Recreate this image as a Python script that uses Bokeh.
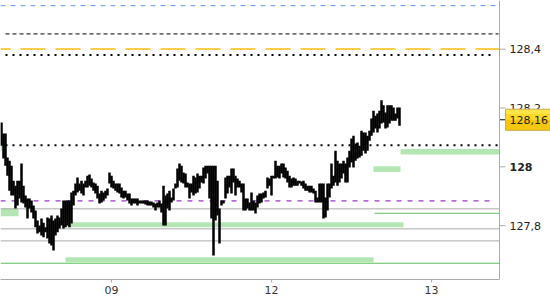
from bokeh.plotting import figure
from bokeh.models import Range1d, FixedTicker, Span, ColumnDataSource
from bokeh.core.properties import value
from bokeh.embed import file_html
from bokeh.resources import INLINE

# ---- OHLC-like bar data (high / low per bar) ----
high = [
    128.151, 128.113, 128.113, 128.032, 128.021, 128.004, 127.953, 127.936, 127.953, 127.953,
    128.011, 127.936, 127.902, 127.892, 127.892, 127.885, 127.868, 127.851, 127.817, 127.800,
    127.824, 127.810, 127.794, 127.828, 127.824, 127.834, 127.817, 127.824, 127.834, 127.828,
    127.858, 127.885, 127.885, 127.885, 127.885, 127.913, 127.919, 127.943, 127.964, 127.943,
    127.953, 127.943, 127.953, 127.970, 127.974, 127.960, 127.947, 127.943, 127.936, 127.909,
    127.919, 127.913, 127.919, 127.926, 127.981, 127.970, 127.953, 127.943, 127.943, 127.943,
    127.930, 127.919, 127.919, 127.909, 127.909, 127.892, 127.892, 127.892, 127.892, 127.885,
    127.885, 127.885, 127.885, 127.885, 127.882, 127.882, 127.879, 127.875, 127.879, 127.885,
    127.875, 127.936, 127.902, 127.909, 127.919, 127.896, 127.926, 127.943, 127.994, 128.011,
    128.004, 127.981, 127.977, 127.947, 127.943, 127.943, 127.970, 127.964, 127.977, 127.970,
    127.970, 127.998, 128.004, 128.004, 128.004, 128.004, 128.004, 128.004, 127.953, 127.858,
    127.885, 127.885, 127.964, 127.970, 127.970, 127.994, 127.994, 127.970, 127.960, 127.953,
    127.943, 127.943, 127.892, 127.892, 127.879, 127.913, 127.885, 127.879, 127.902, 127.909,
    127.909, 127.913, 127.919, 127.964, 127.960, 127.970, 127.970, 128.021, 128.004, 128.004,
    128.011, 128.011, 127.998, 127.987, 127.970, 127.960, 127.964, 127.960, 127.953, 127.953,
    127.950, 127.953, 127.943, 127.936, 127.936, 127.936, 127.926, 127.919, 127.896, 127.943,
    127.943, 127.943, 127.896, 127.943, 127.943, 128.011, 127.970, 128.055, 128.021, 128.011,
    128.011, 128.021, 128.011, 128.032, 128.055, 128.096, 128.106, 128.079, 128.083, 128.072,
    128.123, 128.117, 128.117, 128.106, 128.123, 128.164, 128.191, 128.174, 128.181, 128.191,
    128.226, 128.209, 128.185, 128.209, 128.209, 128.209, 128.202, 128.181, 128.202, 128.202,
]
low = [
    128.072, 128.028, 128.004, 127.970, 127.919, 127.902, 127.902, 127.858, 127.868, 127.892,
    127.879, 127.875, 127.862, 127.824, 127.858, 127.845, 127.824, 127.794, 127.773, 127.777,
    127.766, 127.760, 127.777, 127.756, 127.739, 127.732, 127.715, 127.766, 127.777, 127.790,
    127.800, 127.790, 127.794, 127.800, 127.794, 127.807, 127.868, 127.902, 127.913, 127.919,
    127.909, 127.902, 127.930, 127.930, 127.936, 127.930, 127.919, 127.909, 127.892, 127.875,
    127.879, 127.885, 127.892, 127.902, 127.943, 127.930, 127.926, 127.919, 127.913, 127.909,
    127.896, 127.892, 127.896, 127.885, 127.875, 127.868, 127.875, 127.875, 127.868, 127.875,
    127.875, 127.875, 127.872, 127.868, 127.868, 127.868, 127.862, 127.851, 127.862, 127.862,
    127.845, 127.800, 127.800, 127.858, 127.851, 127.879, 127.885, 127.926, 127.930, 127.953,
    127.947, 127.943, 127.930, 127.930, 127.892, 127.913, 127.902, 127.909, 127.913, 127.926,
    127.947, 127.943, 127.960, 127.977, 127.892, 127.824, 127.698, 127.817, 127.834, 127.739,
    127.868, 127.875, 127.892, 127.909, 127.930, 127.909, 127.947, 127.902, 127.930, 127.930,
    127.913, 127.851, 127.851, 127.858, 127.851, 127.851, 127.851, 127.841, 127.862, 127.875,
    127.879, 127.892, 127.896, 127.926, 127.936, 127.902, 127.960, 127.960, 127.964, 127.960,
    127.977, 127.964, 127.960, 127.947, 127.930, 127.930, 127.936, 127.936, 127.936, 127.943,
    127.936, 127.926, 127.919, 127.919, 127.913, 127.913, 127.909, 127.879, 127.879, 127.879,
    127.879, 127.824, 127.828, 127.851, 127.896, 127.926, 127.936, 127.947, 127.936, 127.947,
    127.960, 127.977, 127.947, 127.947, 127.998, 128.015, 127.998, 128.021, 128.028, 128.032,
    128.038, 128.055, 128.045, 128.055, 128.089, 128.106, 128.117, 128.130, 128.117, 128.130,
    128.147, 128.151, 128.130, 128.134, 128.147, 128.157, 128.157, 128.157, 128.164, 128.140,
]
bar_index = list(range(len(high)))
last_price = 128.16
last_price_text = "128,16"

# ---- axes ----
day_tick_index = [55, 135, 215]
day_labels = ["09", "12", "13"]
price_ticks = [127.8, 128.0, 128.2, 128.4]
price_tick_labels = ["127,8", "128", "128,2", "128,4"]
price_tick_styles = ["normal", "bold", "normal", "normal"]

# ---- horizontal levels ----
level_blue = 128.548
level_black_dash = 128.452
level_orange = 128.401
level_dot_upper = 128.380
level_dot_lower = 128.073
level_purple = 127.884
levels_gray = [127.857, 127.789, 127.748]
level_green_full = 127.672
level_green_part = 127.842

# ---- green zones ----
zone_top = [127.859, 128.072, 127.8115, 127.6925, 128.002, 128.061]
zone_bottom = [127.832, 128.055, 127.7945, 127.6755, 127.982, 128.042]
zone_start = [-0.5, -0.5, 33, 32, 186, 199.5]
zone_end = [8.5, 0.5, 201, 186, 199.5, 249]

FONT = "DejaVu Sans"
X0 = -0.5        # left edge of the price area (bar units)
XR = 249         # right edge of the price area, where the price scale sits
XMAX = 274.5     # right edge of the canvas
BOX_HALF = 0.036  # half height of the current-price box (price units ~ 10.5 px)

p = figure(width=550, height=300,
           x_range=Range1d(X0, XMAX), y_range=Range1d(127.6167, 128.5657),
           y_axis_location=None, output_backend="svg", toolbar_location=None,
           min_border_left=0, min_border_top=0, min_border_right=0, min_border_bottom=21)
p.outline_line_color = None
p.xgrid.visible = False
p.ygrid.visible = False
p.background_fill_color = "white"
p.border_fill_color = "white"

# x axis (line limited to the price area)
xa = p.xaxis[0]
xa.bounds = (X0, XR)
xa.ticker = FixedTicker(ticks=day_tick_index, minor_ticks=[])
xa.major_label_overrides = {t: l for t, l in zip(day_tick_index, day_labels)}
xa.axis_line_color = "#aaaaaa"
xa.major_tick_line_color = "#aaaaaa"
xa.minor_tick_line_color = None
xa.major_tick_out = 3
xa.major_tick_in = 0
xa.major_label_standoff = 3
xa.major_label_text_font = FONT
xa.major_label_text_font_size = "11px"
xa.major_label_text_color = "#333333"

# green zones
zsrc = ColumnDataSource(dict(left=zone_start, right=zone_end, top=zone_top, bottom=zone_bottom))
p.quad(left="left", right="right", top="top", bottom="bottom", source=zsrc,
       fill_color="#b4e6b4", line_color=None)

# levels across the whole price area
p.segment(x0=[X0], y0=[level_blue], x1=[XR], y1=[level_blue],
          line_color="#6495ed", line_width=1, line_dash="5 5")
p.segment(x0=[X0], y0=[level_orange], x1=[XR], y1=[level_orange],
          line_color="#fbbd0f", line_width=1.5, line_dash="25 10", line_dash_offset=15)
p.segment(x0=[X0] * len(levels_gray), y0=levels_gray, x1=[XR] * len(levels_gray), y1=levels_gray,
          line_color="#aaaaaa", line_width=1)
p.segment(x0=[X0], y0=[level_green_full], x1=[XR], y1=[level_green_full],
          line_color="#5cc05c", line_width=1)

# partial levels
p.segment(x0=[2], y0=[level_black_dash], x1=[248.5], y1=[level_black_dash],
          line_color="black", line_width=1, line_dash="4 3")
p.segment(x0=[2, 2], y0=[level_dot_upper, level_dot_lower], x1=[247, 248],
          y1=[level_dot_upper, level_dot_lower], line_color="black", line_width=2, line_dash="2 5")
p.segment(x0=[X0], y0=[level_purple], x1=[247], y1=[level_purple],
          line_color="#8000c0", line_width=1, line_dash="5 6")
p.segment(x0=[186.5], y0=[level_green_part], x1=[XR], y1=[level_green_part],
          line_color="#5cc05c", line_width=1)

# bars
bsrc = ColumnDataSource(dict(x=bar_index, high=high, low=low))
p.segment(x0="x", y0="low", x1="x", y1="high", source=bsrc, line_color="black", line_width=2.5)

# price scale on the right
p.add_layout(Span(location=XR, dimension="height", line_color="#aaaaaa", line_width=1))
tsrc = ColumnDataSource(dict(y=price_ticks, label=price_tick_labels, style=price_tick_styles,
                             x0=[XR] * len(price_ticks), x1=[XR + 3] * len(price_ticks),
                             xt=[XR + 5] * len(price_ticks)))
p.segment(x0="x0", y0="y", x1="x1", y1="y", source=tsrc, line_color="#aaaaaa", line_width=1)
p.text(x="xt", y="y", text="label", source=tsrc, text_font=value(FONT),
       text_font_size="11px", text_font_style="style", text_color="#222222",
       text_baseline="middle", text_align="left")

# current price marker and label box
p.segment(x0=[XR], y0=[last_price], x1=[XR + 3], y1=[last_price], line_color="black", line_width=1)
p.quad(left=[XR + 3], right=[XMAX], top=[last_price + BOX_HALF], bottom=[last_price],
       fill_color="#f6c80a", line_color=None)
p.quad(left=[XR + 3], right=[XMAX], top=[last_price + BOX_HALF], bottom=[last_price + BOX_HALF / 2],
       fill_color="#fee54a", line_color=None)
p.quad(left=[XR + 3], right=[XMAX], top=[last_price + BOX_HALF / 2], bottom=[last_price],
       fill_color="#fcd927", line_color=None)
p.quad(left=[XR + 3], right=[XMAX], top=[last_price], bottom=[last_price - BOX_HALF],
       fill_color="#f5c70c", line_color=None)
p.quad(left=[XR + 3], right=[XMAX + 1], top=[last_price + BOX_HALF], bottom=[last_price - BOX_HALF],
       fill_color=None, line_color="#c9ac5a", line_width=1)
p.text(x=[XR + 5], y=[last_price], text=[last_price_text], text_font=value(FONT),
       text_font_size="11px", text_color="#222222", text_baseline="middle", text_align="left")

open("out.html", "w").write(file_html(p, INLINE))
